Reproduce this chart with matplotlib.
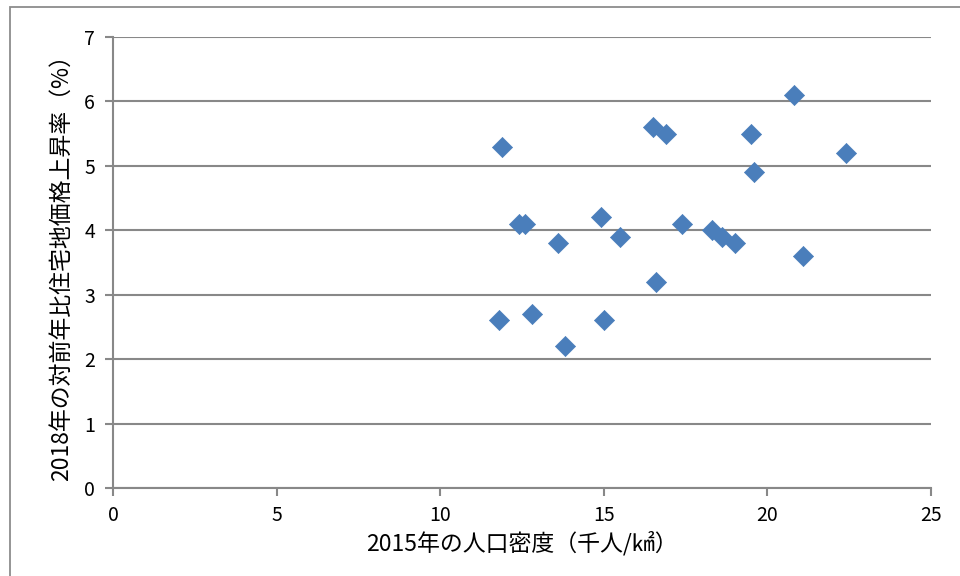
import matplotlib
matplotlib.use('Agg')
import matplotlib.pyplot as plt
from matplotlib.patches import Rectangle

plt.rcParams['font.family'] = ['Noto Sans CJK JP', 'DejaVu Sans']

# 2015 population density (thousand / km2) vs 2018 residential land price change (%)
density = [11.9, 11.8, 12.4, 12.6, 12.8, 13.6, 13.8, 14.9, 15.0, 15.5, 16.5,
           16.9, 16.6, 17.4, 18.3, 18.6, 19.0, 19.5, 19.6, 20.8, 21.1, 22.4]
price_rise = [5.3, 2.6, 4.1, 4.1, 2.7, 3.8, 2.2, 4.2, 2.6, 3.9, 5.6,
              5.5, 3.2, 4.1, 4.0, 3.9, 3.8, 5.5, 4.9, 6.1, 3.6, 5.2]

xticks = [0, 5, 10, 15, 20, 25]
yticks = [0, 1, 2, 3, 4, 5, 6, 7]

grid_col = '#888888'

fig = plt.figure(figsize=(9.6, 5.76), dpi=100)
ax = fig.add_axes([113/960, 1-488/576, (931-113)/960, (488-37)/576])

# chart area border like the spreadsheet frame
fig.patches.append(Rectangle((9.5/960, -0.1), 1.2, 1.1 - 7.5/576,
                             transform=fig.transFigure, fill=False,
                             edgecolor='#8c8c8c', linewidth=1.3))

ax.scatter(density, price_rise, marker='D', s=105, color='#4a7ebb',
           edgecolors='#4a7ebb', linewidths=0.5, zorder=3, clip_on=False)

ax.set_xlim(0, 25)
ax.set_ylim(0, 7)
ax.set_xticks(xticks)
ax.set_yticks(yticks)
ax.yaxis.grid(True, color=grid_col, linewidth=1.5)
ax.set_axisbelow(True)

for s in ['top', 'right']:
    ax.spines[s].set_visible(False)
for s in ['left', 'bottom']:
    ax.spines[s].set_color(grid_col)
    ax.spines[s].set_linewidth(1.5)

ax.tick_params(axis='both', colors=grid_col, length=6, width=1.5,
               labelcolor='black', labelsize=14)
ax.tick_params(axis='x', pad=6)
ax.tick_params(axis='y', pad=7)

ax.set_xlabel('2015年の人口密度（千人/㎢）', fontsize=16.5, labelpad=4)
ax.set_ylabel('2018年の対前年比住宅地価格上昇率（%）', fontsize=16.5, labelpad=8)

fig.savefig('out.png', dpi=100)
